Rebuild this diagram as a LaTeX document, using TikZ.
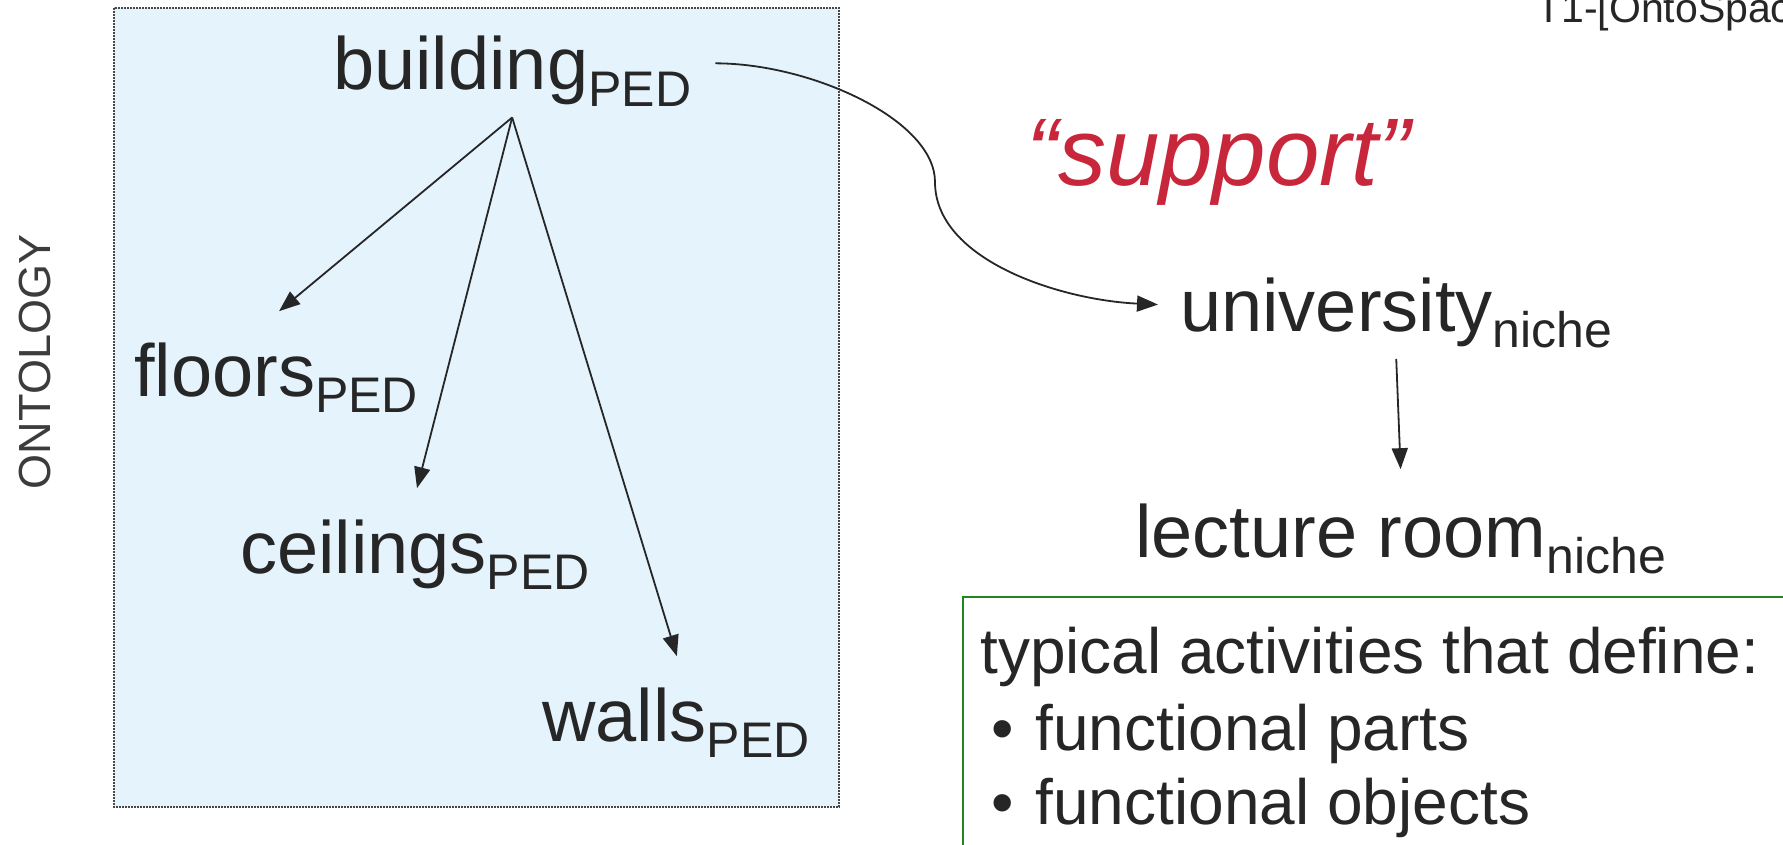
\documentclass[tikz,border=0pt]{standalone}
\usepackage{fontspec}
\setmainfont{Liberation Sans}
\usetikzlibrary{arrows.meta,calc}
\definecolor{ink}{HTML}{262626}
\definecolor{paleblue}{HTML}{E5F3FD}
\definecolor{supportred}{HTML}{C8263A}
\definecolor{boxgreen}{HTML}{1E871E}
\newcommand\lowsub[1]{\raisebox{-0.22em}{\fontsize{50}{50}\selectfont #1}}
\tikzset{
  term/.style={inner sep=0pt, anchor=base west, text=ink, font=\fontsize{74}{80}\selectfont},
  boxline/.style={inner sep=0pt, anchor=base west, text=ink, font=\fontsize{64}{76}\selectfont},
  link/.style={draw=ink, line width=1.8pt, -{Triangle[length=21pt,width=16pt]}},
}
\begin{document}
\begin{tikzpicture}[x=1pt,y=-1pt]
\useasboundingbox (0,0) rectangle (1783,845);
% ontology panel
\fill[paleblue] (114,8) rectangle (839,807);
\draw[ink!85, line width=1.6pt, dash pattern=on 1.6pt off 1.4pt] (114,8) rectangle (839,807);
\node[rotate=90, text=ink!90, font=\fontsize{45}{50}\selectfont, inner sep=0pt] (onto) at (35,362) {ONTOLOGY};
% footer title
\node[inner sep=0pt, anchor=base west, text=ink, font=\fontsize{41}{45}\selectfont] (title) at (1536,23) {T1-[OntoSpace]};
% terms
\node[term] (building) at (333,90) {building\lowsub{PED}};
\node[term] (floors) at (134,396) {floors\lowsub{PED}};
\node[term] (ceilings) at (240,573) {ceilings\lowsub{PED}};
\node[term] (walls) at (542,741) {walls\lowsub{PED}};
\node[term] (university) at (1180,331) {university\lowsub{niche}};
\node[term] (lecture) at (1135,557) {lecture room\lowsub{niche}};
\node[inner sep=0pt, anchor=base west, text=supportred, font=\fontsize{96}{100}\selectfont\itshape] (support) at (1026,186) {“support”};
% activities box
\node[draw=boxgreen, line width=2pt, anchor=north west, inner sep=0pt, minimum width=830pt, minimum height=300pt] (acts) at (962,596) {};
\node[boxline] (acts1) at (980,673) {typical activities that define:};
\node[boxline] (acts2) at (991,750) {•\hspace{22pt}functional parts};
\node[boxline] (acts3) at (991,824) {•\hspace{22pt}functional objects};
% part-of arrows
\coordinate (bfoot) at ($(building.south)+(0,11)$);
\draw[link] (bfoot) -- ($(floors.north)+(3,-31)$);
\draw[link] (bfoot) -- ($(ceilings.north)+(2,-31)$);
\draw[link] (bfoot) -- ($(walls.north)+(1,-31)$);
\draw[link] ($(university.south)+(0,11)$) -- ($(lecture.north)+(0,-34)$);
% support relation
\draw[link] ($(building.east)+(24,-8)$) .. controls +(96,0) and (935,120) .. (935,182)
  .. controls (935,260) and (1060,300) .. ($(university.west)+(-22,-8)$);
\end{tikzpicture}
\end{document}
